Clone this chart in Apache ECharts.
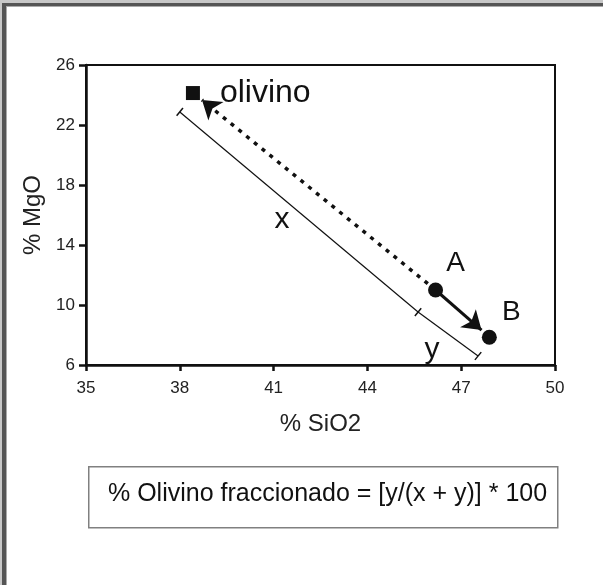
<!DOCTYPE html>
<html>
<head>
<meta charset="utf-8">
<script src="https://cdn.jsdelivr.net/npm/echarts@6/dist/echarts.min.js"></script>
<style>
  html, body { margin: 0; padding: 0; background: #fff; }
  #chart { width: 603px; height: 585px; }
</style>
</head>
<body>
<div id="chart"></div>
<script>
  // axis ranges / ticks
  var xRange = [35, 50], xStep = 3;
  var yRange = [6, 26], yStep = 4;

  // points (SiO2, MgO)
  var olivino = [38.42, 24.13];
  var pointA = [46.18, 11.0];
  var pointB = [47.9, 7.85];

  // arrows: A -> olivino (dotted), A -> B (solid)
  var dottedArrow = [pointA, [38.71, 23.67]];
  var solidArrow = [pointA, [47.65, 8.33]];

  // parallel measuring line, split into x and y parts
  var segStart = [38.0, 22.87];
  var segMid = [45.62, 9.53];
  var segEnd = [47.54, 6.6];

  var formula = '% Olivino fraccionado = [y/(x + y)] * 100';

  var font = 'Liberation Sans, Arial, sans-serif';
  var gridW = 469, gridH = 300;

  // cap rotation: perpendicular to the measuring line (pixel space)
  var dxPx = (segEnd[0] - segStart[0]) * gridW / (xRange[1] - xRange[0]);
  var dyPx = (segEnd[1] - segStart[1]) * gridH / (yRange[1] - yRange[0]);
  var capRotate = Math.atan2(dyPx, dxPx) * 180 / Math.PI + 90;

  var chart = echarts.init(document.getElementById('chart'));
  var option = {
    animation: false,
    grid: {
      left: 86, top: 65, width: gridW, height: gridH,
      show: true, borderColor: '#111', borderWidth: 2, backgroundColor: 'transparent'
    },
    xAxis: {
      type: 'value', min: xRange[0], max: xRange[1], interval: xStep,
      name: '% SiO2', nameLocation: 'middle', nameGap: 47,
      nameTextStyle: { fontFamily: font, fontSize: 24, color: '#222' },
      axisLine: { onZero: false, lineStyle: { color: '#111', width: 2.5 } },
      axisTick: { length: 6, lineStyle: { color: '#111', width: 2.5 } },
      axisLabel: { margin: 15, fontFamily: font, fontSize: 17, color: '#222' },
      splitLine: { show: false }
    },
    yAxis: {
      type: 'value', min: yRange[0], max: yRange[1], interval: yStep,
      name: '% MgO', nameLocation: 'middle', nameGap: 38,
      nameTextStyle: { fontFamily: font, fontSize: 24, color: '#222' },
      axisLine: { onZero: false, lineStyle: { color: '#111', width: 2.5 } },
      axisTick: { length: 7, lineStyle: { color: '#111', width: 2.5 } },
      axisLabel: { margin: 11, fontFamily: font, fontSize: 17, color: '#222' },
      splitLine: { show: false }
    },
    series: [
      {
        // measuring line
        type: 'lines', coordinateSystem: 'cartesian2d', z: 2,
        symbol: 'none',
        lineStyle: { color: '#111', width: 1.2, opacity: 1 },
        data: [
          { coords: [segStart, segMid] },
          { coords: [segMid, segEnd] }
        ]
      },
      {
        // end caps of the measuring line
        type: 'scatter', z: 2, symbol: 'rect', symbolSize: [10, 1.5],
        symbolRotate: capRotate,
        itemStyle: { color: '#111', opacity: 1 },
        data: [segStart, segMid, segEnd]
      },
      {
        type: 'lines', coordinateSystem: 'cartesian2d', z: 3,
        symbol: ['none', 'arrow'], symbolSize: 18,
        lineStyle: { color: '#111', width: 3.5, type: [4, 6], opacity: 1 },
        data: [{ coords: dottedArrow }]
      },
      {
        type: 'lines', coordinateSystem: 'cartesian2d', z: 3,
        symbol: ['none', 'arrow'], symbolSize: 18,
        lineStyle: { color: '#111', width: 3, opacity: 1 },
        data: [{ coords: solidArrow }]
      },
      {
        type: 'scatter', z: 5, symbol: 'rect', symbolSize: 14,
        itemStyle: { color: '#111', opacity: 1 },
        label: { show: true, position: 'right', distance: 20, formatter: 'olivino',
                 fontFamily: font, fontSize: 32, color: '#111' },
        data: [olivino]
      },
      {
        type: 'scatter', z: 5, symbol: 'circle', symbolSize: 15,
        itemStyle: { color: '#111', opacity: 1 },
        label: { show: true, formatter: function (p) { return p.name; },
                 fontFamily: font, fontSize: 28, color: '#111' },
        data: [
          { name: 'A', value: pointA, label: { offset: [20, -27], position: 'inside' } },
          { name: 'B', value: pointB, label: { offset: [22, -25], position: 'inside' } }
        ]
      },
      {
        // x / y labels at segment midpoints
        type: 'scatter', z: 5, symbol: 'circle', symbolSize: 1,
        itemStyle: { color: 'rgba(0,0,0,0)', opacity: 1 },
        label: { show: true, position: 'inside', formatter: function (p) { return p.name; },
                 fontFamily: font, fontSize: 30, color: '#111' },
        data: [
          { name: 'x', value: [(segStart[0] + segMid[0]) / 2, (segStart[1] + segMid[1]) / 2],
            label: { offset: [-17, 8] } },
          { name: 'y', value: [(segMid[0] + segEnd[0]) / 2, (segMid[1] + segEnd[1]) / 2],
            label: { offset: [-16, 16] } }
        ]
      }
    ],
    graphic: [
      { type: 'rect', left: 0, top: 0, shape: { width: 603, height: 3 }, style: { fill: '#c8c8c8' } },
      { type: 'rect', left: 0, top: 0, shape: { width: 3, height: 585 }, style: { fill: '#c8c8c8' } },
      { type: 'rect', left: 2, top: 3, shape: { width: 601, height: 3 }, style: { fill: '#555' } },
      { type: 'rect', left: 2, top: 3, shape: { width: 4, height: 582 }, style: { fill: '#555' } },
      { type: 'rect', left: 6, top: 6, shape: { width: 597, height: 1 }, style: { fill: '#aaa' } },
      { type: 'rect', left: 6, top: 6, shape: { width: 1, height: 579 }, style: { fill: '#aaa' } },
      {
        type: 'rect', left: 88, top: 466,
        shape: { width: 469, height: 61 },
        style: { fill: '#fff', stroke: '#808080', lineWidth: 1.5 }
      },
      {
        type: 'text', left: 108, top: 482,
        style: { text: formula, fontFamily: font, fontSize: 25, fill: '#111' }
      }
    ]
  };
  chart.setOption(option);
</script>
</body>
</html>
